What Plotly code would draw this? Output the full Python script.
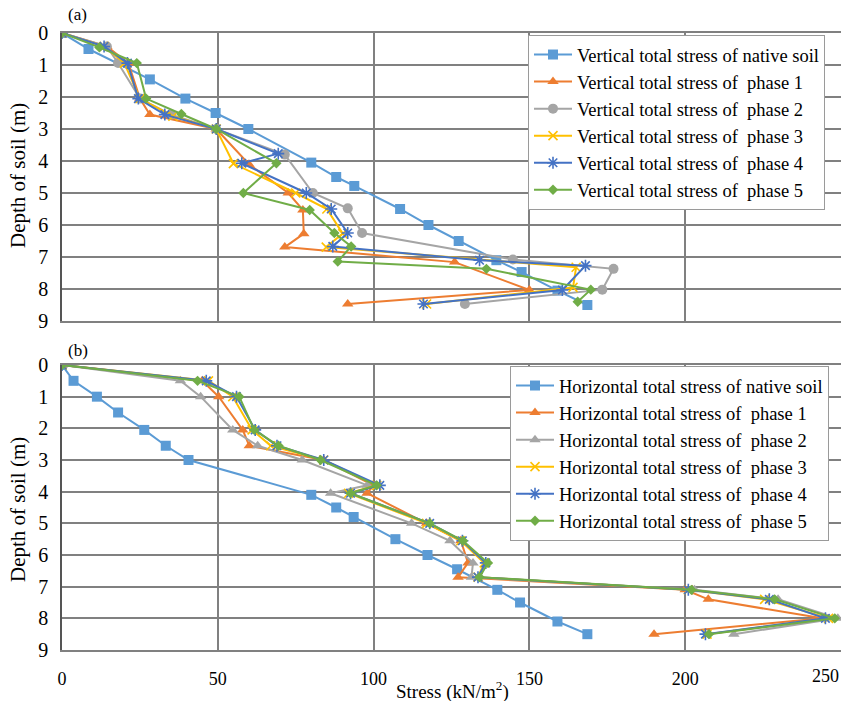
import plotly.graph_objects as go

# ---------------- data: panel (a) vertical total stress ----------------
a_native_d = [0, 0.5, 1.45, 2.05, 2.5, 3.0, 4.05, 4.5, 4.78, 5.5, 6.0, 6.5, 7.1, 7.47, 8.05, 8.5]
a_native_v = [0, 8.5, 28.2, 39.6, 49.3, 59.8, 80, 88, 93.8, 108.5, 117.6, 127.3, 139.4, 147.5, 159, 168.6]

a_p1_d = [0, 0.42, 0.94, 2.05, 2.55, 3.0, 4.1, 5.0, 5.53, 6.27, 6.69, 7.16, 8.03, 8.47]
a_p1_v = [0, 14.4, 21.3, 25, 28.2, 49.5, 60, 72.6, 77.3, 77.6, 71.5, 126, 150, 91.7]

a_p2_d = [0, 0.42, 0.94, 2.05, 2.55, 3.0, 3.8, 5.0, 5.48, 6.25, 7.08, 7.37, 8.02, 8.47]
a_p2_v = [0, 14.4, 18, 25, 35, 49.5, 71.5, 80.5, 91.7, 96.3, 144.7, 177, 173.4, 129.3]

a_p3_d = [0, 0.42, 0.94, 2.05, 2.6, 3.0, 4.08, 5.0, 5.5, 6.27, 6.69, 7.32, 7.95, 8.47]
a_p3_v = [0, 13.5, 20, 25, 35.6, 49.5, 55, 75, 85, 90.1, 84.8, 165, 164, 117]

a_p4_d = [0, 0.42, 0.94, 2.05, 2.55, 3.0, 3.77, 4.07, 5.0, 5.5, 6.25, 6.67, 7.1, 7.27, 8.03, 8.47]
a_p4_v = [0, 13.5, 21, 24.5, 33, 49.5, 69.4, 57.7, 78.4, 86.4, 91.7, 86.9, 134, 168, 160.6, 116]

a_p5_d = [0, 0.45, 0.94, 2.05, 2.53, 3.0, 4.07, 5.0, 5.53, 6.25, 6.67, 7.14, 7.37, 8.02, 8.4]
a_p5_v = [0, 12, 24, 27, 38.3, 49.5, 68.8, 58.2, 79.5, 87.4, 92.8, 88.5, 136.2, 169.7, 165.5]

# ---------------- data: panel (b) horizontal total stress ----------------
b_native_d = [0, 0.5, 1.0, 1.5, 2.05, 2.55, 3.0, 4.1, 4.5, 4.8, 5.5, 6.0, 6.45, 7.1, 7.5, 8.1, 8.5]
b_native_v = [0, 3.7, 11.2, 18, 26.4, 33.3, 40.6, 80, 88, 93.6, 107, 117.3, 126.8, 139.7, 147, 159, 168.6]

b_depth = [0, 0.5, 1.0, 2.05, 2.55, 3.0, 3.8, 4.05, 5.0, 5.55, 6.25, 6.7, 7.1, 7.4, 8.0, 8.5]
b_p1_v = [0, 45, 50.3, 58, 60.1, 84, 100, 97.9, 117, 128, 130.3, 127.1, 200, 207.4, 244, 190]
b_p2_v = [0, 38, 44.5, 54.8, 62.8, 77.1, 98, 86.2, 112.2, 124.5, 131.9, 131.4, 203, 229.8, 249, 215.6]
b_p3_v = [0, 47, 54.8, 61, 67, 84, 101, 92, 117, 128, 135.5, 133.5, 201, 225.5, 246, 207]
b_p4_v = [0, 46.3, 56, 62, 69, 84, 102, 92.6, 118, 128.5, 136, 133.5, 201, 227, 245, 206.5]
b_p5_v = [0, 43.5, 56.9, 61.7, 69.5, 83, 101, 92.6, 118, 128.7, 136.7, 134, 202, 228.7, 248, 207.6]

# ---------------- labels and ticks ----------------
a_names = ["Vertical total stress of native soil"] + [f"Vertical total stress of  phase {i}" for i in range(1, 6)]
b_names = ["Horizontal total stress of native soil"] + [f"Horizontal total stress of  phase {i}" for i in range(1, 6)]
depth_ticks = list(range(0, 10))
stress_ticks = [0, 50, 100, 150, 200, 250]
x_title = "Stress (kN/m<sup>2</sup>)"
y_title = "Depth of soil (m)"
panel_labels = ["(a)", "(b)"]

# ---------------- styling ----------------
FONT = "Liberation Serif"
COLORS = ["#5B9BD5", "#ED7D31", "#A5A5A5", "#FFC000", "#4472C4", "#70AD47"]
SYM_A = ["square", "triangle-up", "circle", "x-thin-open", "asterisk-open", "diamond"]
SYM_B = ["square", "triangle-up", "triangle-up", "x-thin-open", "asterisk-open", "diamond"]
SIZES = [10, 10, 10, 9, 10, 8]
GRID = "#808080"

fig = go.Figure()


def add_series(xs, ys, name, i, symbols, xa, ya, legend):
    sym = symbols[i]
    open_sym = sym.endswith("-open")
    fig.add_trace(go.Scatter(
        x=xs, y=ys, name=name, mode="lines+markers",
        xaxis=xa, yaxis=ya, legend=legend,
        line=dict(color=COLORS[i], width=2),
        marker=dict(symbol=sym, size=SIZES[i], color=COLORS[i],
                    line=dict(color=COLORS[i], width=1.6 if open_sym else 0)),
    ))


a_series = [(a_native_v, a_native_d), (a_p1_v, a_p1_d), (a_p2_v, a_p2_d),
            (a_p3_v, a_p3_d), (a_p4_v, a_p4_d), (a_p5_v, a_p5_d)]
for i, (xs, ys) in enumerate(a_series):
    add_series(xs, ys, a_names[i], i, SYM_A, "x", "y", "legend")

b_series = [(b_native_v, b_native_d), (b_p1_v, b_depth), (b_p2_v, b_depth),
            (b_p3_v, b_depth), (b_p4_v, b_depth), (b_p5_v, b_depth)]
for i, (xs, ys) in enumerate(b_series):
    add_series(xs, ys, b_names[i], i, SYM_B, "x2", "y2", "legend2")

W, H = 843, 701
ML, MR, MT, MB = 62, 2, 33, 51
plot_w = W - ML - MR
plot_h = H - MT - MB


def py(pix_y):
    return (H - MB - pix_y) / plot_h


def px(pix_x):
    return (pix_x - ML) / plot_w


shown_x = [t for t in stress_ticks if t < stress_ticks[-1]]
xcommon = dict(range=[0, 250], tickvals=shown_x, showgrid=True, gridcolor=GRID,
               gridwidth=1.5, zeroline=False, showline=True, linecolor=GRID,
               linewidth=1.5, mirror=True, ticks="", ticklabelstandoff=12,
               tickfont=dict(family=FONT, size=18, color="black"))
ycommon = dict(range=[9, 0], tickvals=depth_ticks, showgrid=True, gridcolor=GRID,
               gridwidth=1.5, zeroline=False, showline=True, linecolor="#555555",
               linewidth=1.5, ticks="", ticklabelstandoff=8,
               tickfont=dict(family=FONT, size=20, color="black"))

top_lo = py(321)
bot_hi = py(365)

legend_style = dict(font=dict(family=FONT, size=18.5, color="black"),
                    bgcolor="white", bordercolor="#9a9a9a", borderwidth=1,
                    itemwidth=38, tracegroupgap=0, xanchor="left", yanchor="top")

fig.update_layout(
    width=W, height=H,
    margin=dict(l=ML, r=MR, t=MT, b=MB),
    paper_bgcolor="white", plot_bgcolor="white",
    font=dict(family=FONT, color="black"),
    xaxis=dict(domain=[0, 1], anchor="y", showticklabels=False, **xcommon),
    yaxis=dict(domain=[top_lo, 1], anchor="x", **ycommon),
    xaxis2=dict(domain=[0, 1], anchor="y2", showticklabels=True, **xcommon),
    yaxis2=dict(domain=[0, bot_hi], anchor="x2", **ycommon),
    legend=dict(x=px(528), y=py(35), **legend_style),
    legend2=dict(x=px(510), y=py(366), **legend_style),
    showlegend=True,
)

annotations = [
    # last stress tick sits at the right edge, so its label is right-aligned
    dict(text=str(stress_ticks[-1]), x=stress_ticks[-1], xref="x2", y=py(676), yref="paper",
         xanchor="right", yanchor="middle", showarrow=False,
         font=dict(family=FONT, size=18, color="black")),
    dict(text=x_title, x=px(452), y=py(690), xref="paper", yref="paper",
         xanchor="center", yanchor="middle", showarrow=False,
         font=dict(family=FONT, size=19, color="black")),
    dict(text=y_title, x=px(18), y=py(176), xref="paper", yref="paper", textangle=-90,
         xanchor="center", yanchor="middle", showarrow=False,
         font=dict(family=FONT, size=21, color="black")),
    dict(text=y_title, x=px(18), y=py(510), xref="paper", yref="paper", textangle=-90,
         xanchor="center", yanchor="middle", showarrow=False,
         font=dict(family=FONT, size=21, color="black")),
    dict(text=panel_labels[0], x=px(66), y=py(14), xref="paper", yref="paper",
         xanchor="left", yanchor="middle", showarrow=False,
         font=dict(family=FONT, size=17, color="black")),
    dict(text=panel_labels[1], x=px(66), y=py(350), xref="paper", yref="paper",
         xanchor="left", yanchor="middle", showarrow=False,
         font=dict(family=FONT, size=17, color="black")),
]
fig.update_layout(annotations=annotations)

fig.write_html("out.html")
